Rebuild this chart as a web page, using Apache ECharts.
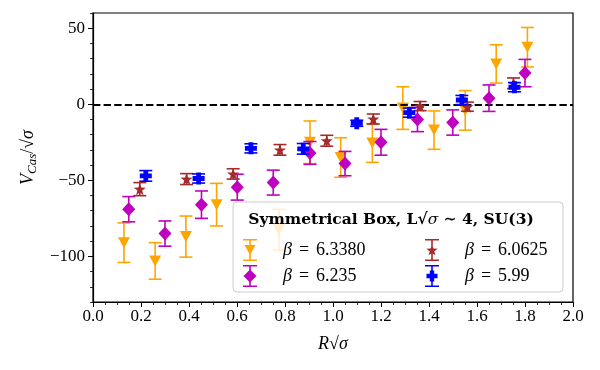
<!DOCTYPE html>
<html><head><meta charset="utf-8">
<script src="https://cdn.jsdelivr.net/npm/echarts@6/dist/echarts.min.js"></script>
<style>html,body{margin:0;padding:0;background:#fff}#c{width:600px;height:370px}</style>
</head><body><div id="c"></div>
<script>
// ---- data ----
const orangeX = [0.129,0.259,0.387,0.515,0.775,0.904,1.032,1.164,1.291,1.421,1.551,1.680,1.810];
const orangeY = [-91,-103,-87,-66,-82.5,-25,-35,-25.5,-2.5,-17,-4,26.5,37.5];
const orangeErr = [13,12,13.5,14,13.5,14,13,12.7,14,12.6,13,12.6,13];

const magentaX = [0.149,0.300,0.452,0.601,0.751,0.904,1.050,1.200,1.352,1.499,1.650,1.800];
const magentaY = [-69,-85,-66,-54.5,-51.5,-32,-39,-25,-10,-12,4,20.5];
const magentaErr = [8.3,8.3,9,8.5,8.2,7.5,8,8.5,8,8.3,8.7,9];

const brownX = [0.195,0.390,0.584,0.779,0.974,1.168,1.363,1.560,1.752];
const brownY = [-55.8,-49.2,-45.8,-30,-24,-9.7,-1.2,-1.6,13.8];
const brownErr = [4.3,3.6,3.4,3.5,3.6,3.3,3,3,3.5];

const blueX = [0.220,0.440,0.658,0.876,1.099,1.318,1.537,1.756];
const blueY = [-47.1,-48.8,-29,-29.3,-12.5,-5.5,2.8,11.2];
const blueErr = [3.5,3,3,3.5,2,3,3,3];

const seriesNames = ['β = 6.3380','β = 6.235','β = 6.0625','β = 5.99'];
const yMajorTicks = [-100,-50,0,50];
const refLineY = [0];

// ---- helpers ----
const FONT = '"Liberation Serif", "DejaVu Serif", serif';
function pts(xs, ys, es){ return xs.map((x,i)=>[x, ys[i], es[i]]); }
function starPath(cx, cy, R, r){
  let d = '';
  for (let i=0;i<10;i++){
    const a = -Math.PI/2 + i*Math.PI/5;
    const rr = i%2===0 ? R : r;
    const px = (cx + rr*Math.cos(a)).toFixed(3), py = (cy + rr*Math.sin(a)).toFixed(3);
    d += (i===0?'M':'L') + px + ' ' + py + ' ';
  }
  return d + 'Z';
}
function plusPath(cx, cy, R, w){
  const p = [[-w,-R],[w,-R],[w,-w],[R,-w],[R,w],[w,w],[w,R],[-w,R],[-w,w],[-R,w],[-R,-w],[-w,-w]];
  return p.map((q,i)=>(i===0?'M':'L')+(cx+q[0])+' '+(cy+q[1])).join(' ')+' Z';
}
const starSym = 'path://' + starPath(0,0,1,0.4);
const plusSym = 'path://' + plusPath(0,0,1,0.4);

// legend icons: 14 x 22 box with error bar + marker
const barPart = 'M0 0 L14 0 L14 1.6 L0 1.6 Z M0 20.4 L14 20.4 L14 22 L0 22 Z M6.2 0 L7.8 0 L7.8 22 L6.2 22 Z ';
const iconOrange = 'path://' + barPart + 'M1.5 6 L12.5 6 L7 16 Z';
const iconMagenta = 'path://' + barPart + 'M7 4.5 L13.5 11 L7 17.5 L0.5 11 Z';
const iconBrown = 'path://' + barPart + starPath(7,11.5,6,2.4);
const iconBlue = 'path://' + barPart + plusPath(7,11,5.5,2.2);

function errRender(color){
  return function(params, api){
    const x = api.value(0), y = api.value(1), e = api.value(2);
    const t = api.coord([x, y+e]), b = api.coord([x, y-e]);
    const hw = 6.5, st = {stroke: color, lineWidth: 1.6};
    return {type:'group', children:[
      {type:'line', shape:{x1:t[0],y1:t[1],x2:b[0],y2:b[1]}, style:st},
      {type:'line', shape:{x1:t[0]-hw,y1:t[1],x2:t[0]+hw,y2:t[1]}, style:st},
      {type:'line', shape:{x1:b[0]-hw,y1:b[1],x2:b[0]+hw,y2:b[1]}, style:st}
    ]};
  };
}
function errSeries(name, color, data, z){
  return {name: name+' err', type:'custom', renderItem: errRender(color), data: data,
    encode:{x:0,y:1}, z: z, silent:true, animation:false, clip:false};
}
function markSeries(name, color, data, symbol, size, rotate, z){
  return {name: name, type:'scatter', data: data.map(d=>[d[0],d[1]]), symbol: symbol,
    symbolSize: size, symbolRotate: rotate||0, itemStyle:{color: color, opacity:1},
    z: z, animation:false, silent:true};
}

const C = {orange:'#FFA500', magenta:'#BF00BF', brown:'#A52A2A', blue:'#0000FF'};
const dO = pts(orangeX, orangeY, orangeErr);
const dM = pts(magentaX, magentaY, magentaErr);
const dB = pts(brownX, brownY, brownErr);
const dU = pts(blueX, blueY, blueErr);

const minus = v => String(v).replace('-', '\u2212');
const legendRich = {
  s:{width:21},
  b:{fontFamily:FONT, fontStyle:'italic', fontSize:18, color:'#000'},
  e:{fontFamily:FONT, fontSize:18, color:'#000', padding:[0,7,0,7]},
  n:{fontFamily:FONT, fontSize:18, color:'#000'}
};
const legendFmt = name => { const v = name.split('= ')[1]; return '{s|}{b|β}{e|=}{n|' + v + '}'; };

const chart = echarts.init(document.getElementById('c'), null, {renderer:'canvas'});
chart.setOption({
  animation:false,
  backgroundColor:'#fff',
  grid:{left:93, right:27, top:13, bottom:68, show:true, borderColor:'#000', borderWidth:1.2, backgroundColor:'transparent'},
  xAxis:[{
    type:'value', min:0, max:2, interval:0.2,
    axisLine:{show:true, onZero:false, lineStyle:{color:'#000', width:1.2}},
    axisTick:{show:true, length:5, lineStyle:{color:'#000', width:1}},
    minorTick:{show:true, splitNumber:4, length:3, lineStyle:{color:'#000', width:0.8}},
    splitLine:{show:false},
    axisLabel:{color:'#000', fontFamily:FONT, fontSize:17, margin:6, formatter: v => v.toFixed(1)},
    name:'{i|R}{n|√}{o|σ}', nameLocation:'middle', nameGap:33,
    nameTextStyle:{rich:{
      i:{fontFamily:FONT, fontStyle:'italic', fontSize:18, color:'#000'},
      n:{fontFamily:FONT, fontSize:18, color:'#000'},
      o:{fontFamily:FONT, fontStyle:'italic', fontSize:18, color:'#000'}
    }}
  }],
  yAxis:[{
    type:'value', min:-130, max:60,
    axisLine:{show:true, onZero:false, lineStyle:{color:'#000', width:1.2}},
    axisTick:{show:true, length:5, customValues: yMajorTicks, lineStyle:{color:'#000', width:1}},
    axisLabel:{color:'#000', fontFamily:FONT, fontSize:17, margin:8, customValues: yMajorTicks, formatter: v => minus(v)},
    splitLine:{show:false},
    name:'{i|V}{sub|Cas}{n|/√}{o|σ}', nameLocation:'middle', nameGap:54, nameRotate:90,
    nameTextStyle:{rich:{
      i:{fontFamily:FONT, fontStyle:'italic', fontSize:18, color:'#000'},
      sub:{fontFamily:FONT, fontStyle:'italic', fontSize:13, color:'#000', verticalAlign:'bottom', padding:[8,0,0,0]},
      n:{fontFamily:FONT, fontSize:18, color:'#000'},
      o:{fontFamily:FONT, fontStyle:'italic', fontSize:18, color:'#000'}
    }}
  },{
    type:'value', min:-130, max:60, interval:10, position:'left',
    axisLine:{show:false},
    axisTick:{show:true, length:3, lineStyle:{color:'#000', width:0.8}},
    axisLabel:{show:false}, splitLine:{show:false}
  }],
  legend:[{
    data:[{name:seriesNames[0], icon:iconOrange},{name:seriesNames[1], icon:iconMagenta}],
    orient:'vertical', left:238, top:234, itemWidth:14, itemHeight:22, itemGap:4,
    formatter: legendFmt, textStyle:{rich:legendRich}, selectedMode:false, z:120
  },{
    data:[{name:seriesNames[2], icon:iconBrown},{name:seriesNames[3], icon:iconBlue}],
    orient:'vertical', left:420, top:234, itemWidth:14, itemHeight:22, itemGap:4,
    formatter: legendFmt, textStyle:{rich:legendRich}, selectedMode:false, z:120
  }],
  graphic:[{
    type:'rect', z:100, shape:{x:233, y:202, width:330, height:90, r:4},
    style:{fill:'rgba(255,255,255,0.8)', stroke:'#cccccc', lineWidth:1}
  },{
    type:'text', z:101, x:391, y:220,
    style:{text:'{b|Symmetrical Box, L√}{s|σ}{b| ∼ 4, SU(3)}', align:'center', verticalAlign:'middle',
      rich:{
        b:{fontFamily:'"DejaVu Serif", serif', fontWeight:'bold', fontSize:15.5, fill:'#000'},
        s:{fontFamily:'"DejaVu Serif", serif', fontStyle:'italic', fontSize:15.5, fill:'#000'}
      }}
  }],
  series:[
    {name:'ref', type:'line', data: refLineY.map(()=>null), silent:true, symbol:'none', z:1,
     markLine:{silent:true, symbol:'none', label:{show:false}, animation:false,
       lineStyle:{color:'#000', type:[7.4,3.2], width:2},
       data: refLineY.map(v=>({yAxis:v}))}},
    errSeries(seriesNames[0], C.orange, dO, 2),
    markSeries(seriesNames[0], C.orange, dO, 'triangle', [12,11], 180, 3),
    errSeries(seriesNames[1], C.magenta, dM, 4),
    markSeries(seriesNames[1], C.magenta, dM, 'diamond', [13,14], 0, 5),
    errSeries(seriesNames[2], C.brown, dB, 6),
    markSeries(seriesNames[2], C.brown, dB, starSym, 12, 0, 7),
    errSeries(seriesNames[3], C.blue, dU, 8),
    markSeries(seriesNames[3], C.blue, dU, plusSym, 12, 0, 9)
  ]
});
</script></body></html>
